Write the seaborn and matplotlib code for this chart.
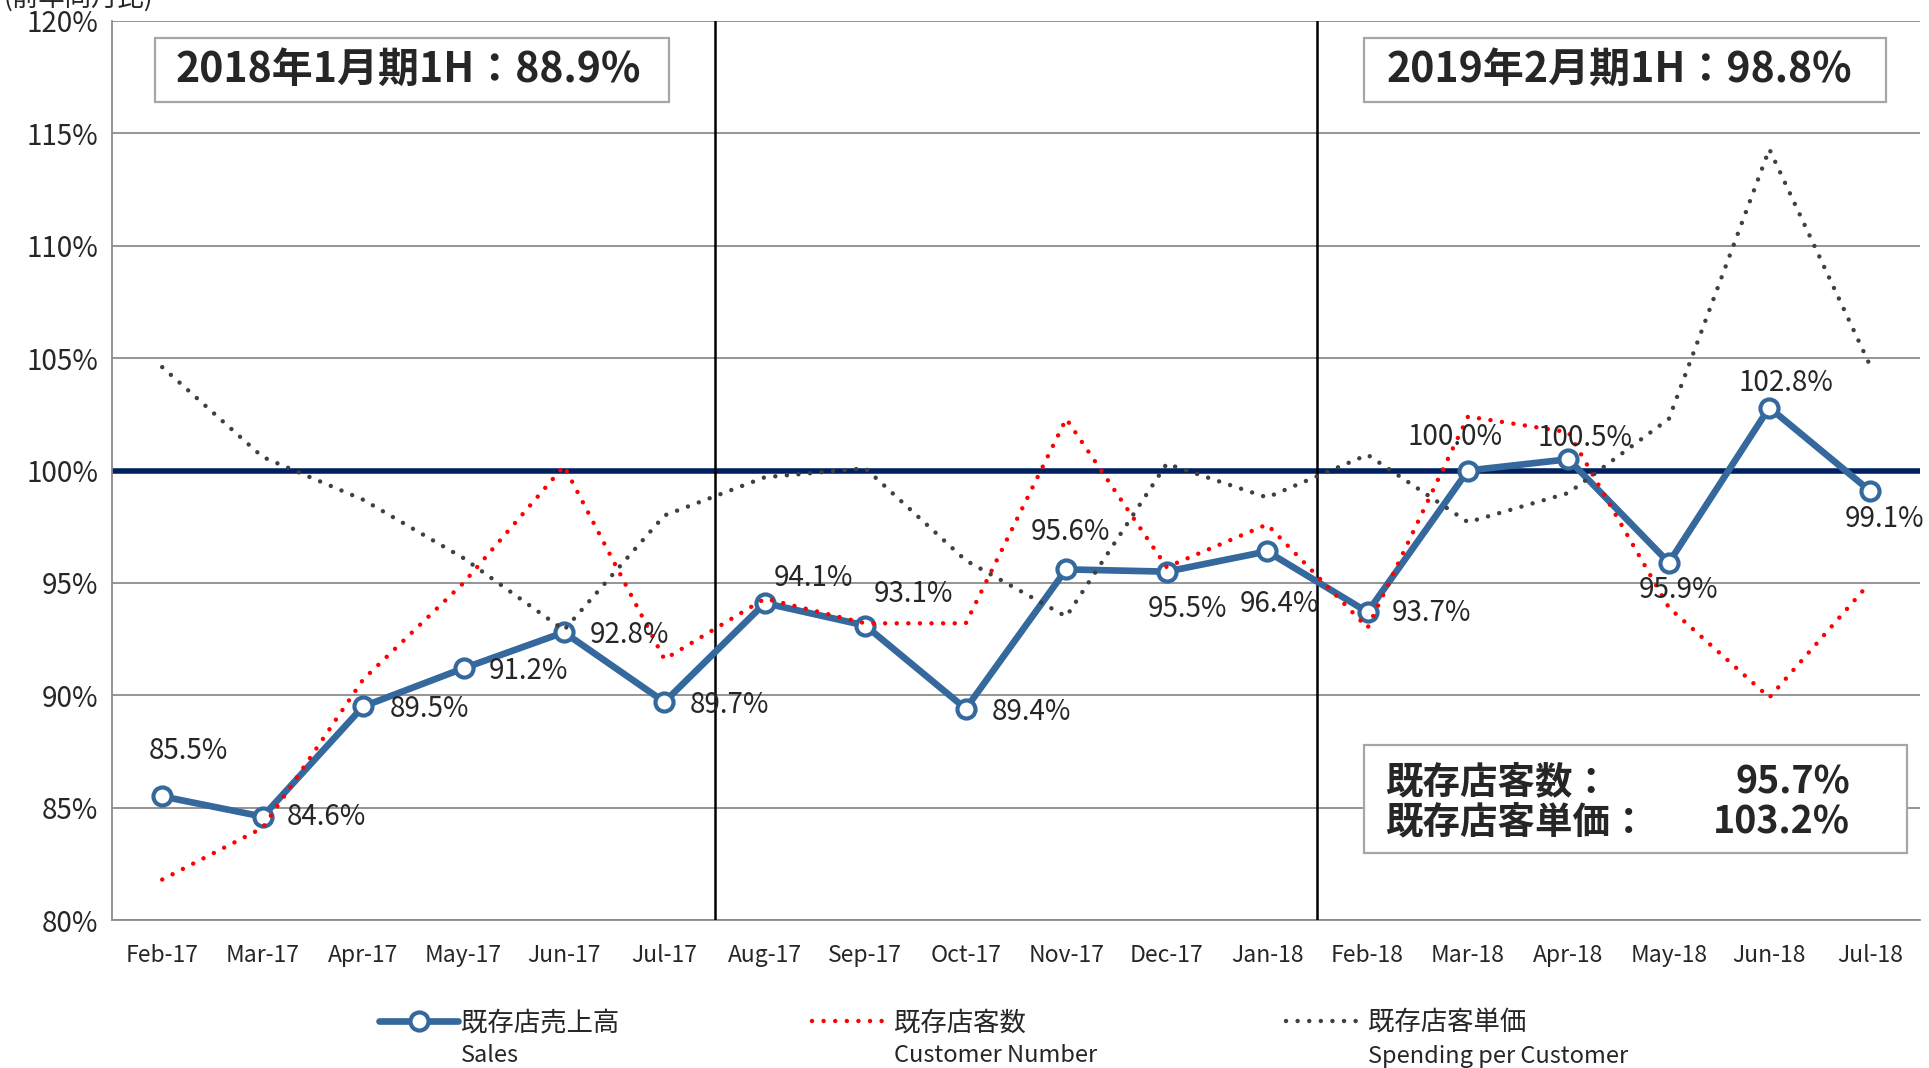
import matplotlib
matplotlib.use("Agg")
import matplotlib.pyplot as plt
import numpy as np
import seaborn as sns
from matplotlib.patches import Rectangle
from matplotlib.ticker import FuncFormatter

# data (percent vs. same month previous year)
months = ["Feb-17", "Mar-17", "Apr-17", "May-17", "Jun-17", "Jul-17",
          "Aug-17", "Sep-17", "Oct-17", "Nov-17", "Dec-17", "Jan-18",
          "Feb-18", "Mar-18", "Apr-18", "May-18", "Jun-18", "Jul-18"]
sales = [85.5, 84.6, 89.5, 91.2, 92.8, 89.7, 94.1, 93.1, 89.4,
         95.6, 95.5, 96.4, 93.7, 100.0, 100.5, 95.9, 102.8, 99.1]
customers = [81.8, 84.1, 90.7, 95.0, 100.2, 91.6, 94.3, 93.2, 93.2,
             102.3, 95.7, 97.6, 93.0, 102.4, 101.7, 93.9, 89.9, 95.0]
spending = [104.6, 100.6, 98.7, 96.1, 92.9, 98.0, 99.7, 100.1, 96.0,
            93.5, 100.3, 98.8, 100.7, 97.7, 99.0, 102.3, 114.3, 104.7]

series_jp = ["既存店売上高", "既存店客数", "既存店客単価"]
series_en = ["Sales", "Customer Number", "Spending per Customer"]
period_notes = ["2018年1月期1H：88.9%", "2019年2月期1H：98.8%"]
summary_labels = ["既存店客数：", "既存店客単価："]
summary_values = ["95.7%", "103.2%"]
y_ticks = [80, 85, 90, 95, 100, 105, 110, 115, 120]

# label offsets (points) for the sales data labels
label_offsets = [(19, 33), (46, 0), (48, -2), (47, -2), (47, -2), (47, -2),
                 (35, 18), (35, 23), (47, -2), (3, 27), (15, -27), (9, -38),
                 (46, -1), (-9, 24), (12, 15), (7, -20), (12, 18), (11, -20)]

BLUE = "#35689c"
GRID = "#8c8c8c"

sns.set_style("white")
plt.rcParams["font.family"] = ["Noto Sans CJK JP", "DejaVu Sans"]

fig = plt.figure(figsize=(19.29, 10.68), dpi=100)
ax = fig.add_axes([112 / 1929, 1 - 920 / 1068, 1808 / 1929, 899 / 1068])

dotted = dict(dash_capstyle="round", linewidth=3.2, zorder=4)
sns.lineplot(x=months, y=sales, ax=ax, sort=False, color=BLUE, linewidth=4.8,
             marker="o", markersize=13, markerfacecolor="white",
             markeredgecolor=BLUE, markeredgewidth=3, zorder=3)
h_sales = ax.lines[-1]
sns.lineplot(x=months, y=customers, ax=ax, sort=False, color="#ff0000",
             linestyle=(0, (0.01, 2.6)), **dotted)
h_cust = ax.lines[-1]
sns.lineplot(x=months, y=spending, ax=ax, sort=False, color="#404040",
             linestyle=(0, (0.01, 2.6)), **dotted)
h_spend = ax.lines[-1]

ax.axhline(100, color="#002060", linewidth=4, zorder=2.5)
for xv in (5.5, 11.5):
    ax.axvline(xv, color="black", linewidth=1.8, zorder=2.6)

ax.set_xlim(-0.5, len(months) - 0.5)
ax.set_ylim(80, 120)
ax.set_yticks(y_ticks)
ax.yaxis.set_major_formatter(FuncFormatter(lambda v, _: f"{v:.0f}%"))
ax.grid(axis="y", color=GRID, linewidth=1.3)
ax.grid(axis="x", visible=False)
ax.set_xticks(np.arange(-0.5, len(months)), minor=True)
ax.tick_params(axis="x", which="major", length=0, labelsize=16.5, pad=17)
ax.tick_params(axis="x", which="minor", length=7, width=1.3, color=GRID, direction="out")
ax.tick_params(axis="y", length=7, width=1.3, color=GRID, direction="out",
               labelsize=20, pad=3)
ax.set_xlabel("")
ax.set_ylabel("")
for side in ("top", "right"):
    ax.spines[side].set_visible(False)
for side in ("left", "bottom"):
    ax.spines[side].set_color(GRID)
    ax.spines[side].set_linewidth(1.3)

for i, (v, off) in enumerate(zip(sales, label_offsets)):
    ax.annotate(f"{v:.1f}%", (i, v), xytext=off, textcoords="offset points",
                ha="center", va="center", fontsize=20, zorder=6)

# period boxes
box_kw = dict(transform=ax.transAxes, facecolor="white", edgecolor="#a6a6a6",
              linewidth=1.6, zorder=5)
for (x0, x1), tx, note in zip([(0.0238, 0.3081), (0.6925, 0.9812)],
                              [0.0354, 0.7047], period_notes):
    ax.add_patch(Rectangle((x0, 0.9099), x1 - x0, 0.0711, **box_kw))
    ax.text(tx, 0.9455, note, transform=ax.transAxes, fontsize=29.5,
            fontweight="bold", va="center", ha="left", zorder=6)

ax.add_patch(Rectangle((0.6925, 0.0745), 0.3003, 0.1202, **box_kw))
for yy, lab, val in zip([0.1535, 0.1090], summary_labels, summary_values):
    ax.text(0.704, yy, lab, transform=ax.transAxes, fontsize=27,
            fontweight="bold", va="center", ha="left", zorder=6)
    ax.text(0.9613, yy, val, transform=ax.transAxes, fontsize=27,
            fontweight="bold", va="center", ha="right", zorder=6)

# axis caption, cut by the top edge as in the source chart
fig.text(0.002, 1 + 2 / 1068, "(前年同月比)", fontsize=19, va="center", ha="left")

# legend: one small legend per series, english caption below
legends = []
for h, jp, x in zip([h_sales, h_cust, h_spend], series_jp, [379, 812, 1286]):
    leg = fig.legend(handles=[h], labels=[jp], loc="center left",
                     bbox_to_anchor=(x / 1929, 1 - 1023 / 1068), frameon=False,
                     borderpad=0, borderaxespad=0, handlelength=3.0,
                     handletextpad=0.12, fontsize=19)
    legends.append(leg)

fig.canvas.draw()
W, H = fig.canvas.get_width_height()
for leg, en in zip(legends, series_en):
    bb = leg.get_texts()[0].get_window_extent()
    fig.text(bb.x0 / W, (bb.y0 - 8) / H, en, fontsize=17, va="top", ha="left")

fig.savefig("out.png", dpi=100)
